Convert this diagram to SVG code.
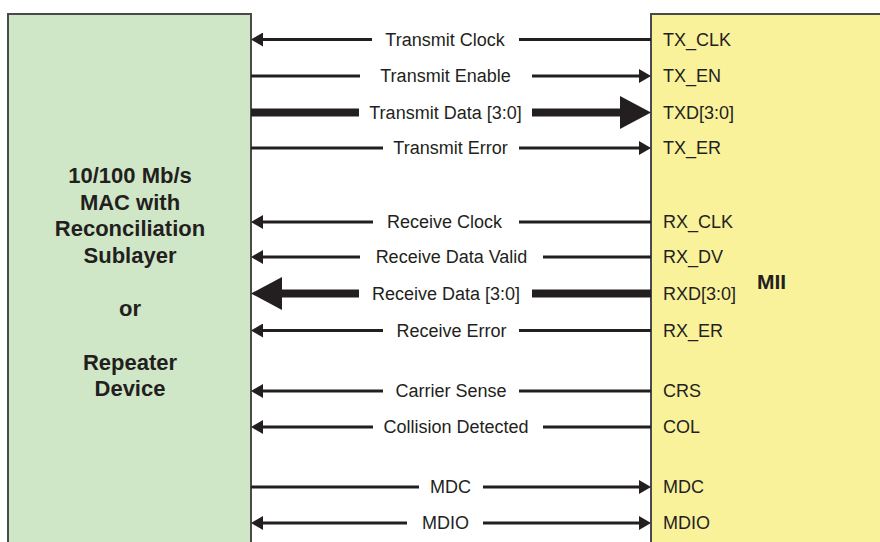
<svg xmlns="http://www.w3.org/2000/svg" width="880" height="542" viewBox="0 0 880 542">
  <style>
    .box-mac { fill: #d0e7c7; stroke: #4a4a4a; stroke-width: 2; }
    .box-mii { fill: #f9f29b; stroke: #4a4a4a; stroke-width: 2; }
    .title { font-family: "Liberation Sans", Arial, sans-serif; font-weight: bold; font-size: 22px; fill: #231f20; text-anchor: middle; }
    .mii { font-family: "Liberation Sans", Arial, sans-serif; font-weight: bold; font-size: 21px; fill: #231f20; }
    .sig { font-family: "Liberation Sans", Arial, sans-serif; font-size: 18px; fill: #231f20; text-anchor: middle; }
    .pin { font-family: "Liberation Sans", Arial, sans-serif; font-size: 18px; fill: #231f20; }
    .thin { stroke: #231f20; stroke-width: 3; fill: none; }
    .thick { stroke: #231f20; stroke-width: 8; fill: none; }
  </style>
  <defs>
    <marker id="head" markerUnits="userSpaceOnUse" markerWidth="12" markerHeight="14" refX="0" refY="7" orient="auto-start-reverse">
      <path d="M0,0 L12,7 L0,14 Z" fill="#231f20"/>
    </marker>
    <marker id="head-bus" markerUnits="userSpaceOnUse" markerWidth="31" markerHeight="33" refX="0" refY="16.5" orient="auto-start-reverse">
      <path d="M0,0 L31,16.5 L0,33 Z" fill="#231f20"/>
    </marker>
  </defs>

  <rect width="880" height="542" fill="#ffffff"/>

  <!-- MAC / repeater block -->
  <g id="mac">
    <rect class="box-mac" x="8" y="14" width="243" height="560"/>
    <text class="title" x="130" y="183">10/100 Mb/s</text>
    <text class="title" x="130" y="209.5">MAC with</text>
    <text class="title" x="130" y="236">Reconciliation</text>
    <text class="title" x="130" y="262.5">Sublayer</text>
    <text class="title" x="130" y="316">or</text>
    <text class="title" x="130" y="369.5">Repeater</text>
    <text class="title" x="130" y="396">Device</text>
  </g>

  <!-- MII block with its pin names -->
  <g id="mii">
    <rect class="box-mii" x="651" y="14" width="260" height="560"/>
    <text class="mii" x="757" y="289">MII</text>
    <text class="pin" x="663" y="45.5">TX_CLK</text>
    <text class="pin" x="663" y="82">TX_EN</text>
    <text class="pin" x="663" y="118.5">TXD[3:0]</text>
    <text class="pin" x="663" y="154">TX_ER</text>
    <text class="pin" x="663" y="228">RX_CLK</text>
    <text class="pin" x="663" y="263">RX_DV</text>
    <text class="pin" x="663" y="299.5">RXD[3:0]</text>
    <text class="pin" x="663" y="336.5">RX_ER</text>
    <text class="pin" x="663" y="397">CRS</text>
    <text class="pin" x="663" y="433">COL</text>
    <text class="pin" x="663" y="493">MDC</text>
    <text class="pin" x="663" y="529">MDIO</text>
  </g>

  <!-- signal lines between the two blocks -->
  <g id="connectors">
    <g id="tx-clk">
      <path class="thin" d="M263,39.5 H372" marker-start="url(#head)"/>
      <path class="thin" d="M519,39.5 H651"/>
      <text class="sig" x="445" y="45.5">Transmit Clock</text>
    </g>
    <g id="tx-en">
      <path class="thin" d="M251,76 H360"/>
      <path class="thin" d="M532,76 H639" marker-end="url(#head)"/>
      <text class="sig" x="445.5" y="82">Transmit Enable</text>
    </g>
    <g id="txd">
      <path class="thick" d="M251,112.5 H359"/>
      <path class="thick" d="M532,112.5 H620" marker-end="url(#head-bus)"/>
      <text class="sig" x="445.5" y="118.5">Transmit Data [3:0]</text>
    </g>
    <g id="tx-er">
      <path class="thin" d="M251,148 H383"/>
      <path class="thin" d="M519,148 H639" marker-end="url(#head)"/>
      <text class="sig" x="450.5" y="154">Transmit Error</text>
    </g>
    <g id="rx-clk">
      <path class="thin" d="M263,222 H373" marker-start="url(#head)"/>
      <path class="thin" d="M519,222 H651"/>
      <text class="sig" x="444.5" y="228">Receive Clock</text>
    </g>
    <g id="rx-dv">
      <path class="thin" d="M263,257 H360" marker-start="url(#head)"/>
      <path class="thin" d="M543,257 H651"/>
      <text class="sig" x="451.5" y="263">Receive Data Valid</text>
    </g>
    <g id="rxd">
      <path class="thick" d="M282,293.5 H359" marker-start="url(#head-bus)"/>
      <path class="thick" d="M532,293.5 H651"/>
      <text class="sig" x="446" y="299.5">Receive Data [3:0]</text>
    </g>
    <g id="rx-er">
      <path class="thin" d="M263,330.5 H383" marker-start="url(#head)"/>
      <path class="thin" d="M519,330.5 H651"/>
      <text class="sig" x="451.5" y="336.5">Receive Error</text>
    </g>
    <g id="crs">
      <path class="thin" d="M263,391 H383" marker-start="url(#head)"/>
      <path class="thin" d="M519,391 H651"/>
      <text class="sig" x="451" y="397">Carrier Sense</text>
    </g>
    <g id="col">
      <path class="thin" d="M263,427 H373" marker-start="url(#head)"/>
      <path class="thin" d="M543,427 H651"/>
      <text class="sig" x="456" y="433">Collision Detected</text>
    </g>
    <g id="mdc">
      <path class="thin" d="M251,487 H419"/>
      <path class="thin" d="M483,487 H639" marker-end="url(#head)"/>
      <text class="sig" x="450.5" y="493">MDC</text>
    </g>
    <g id="mdio">
      <path class="thin" d="M263,523 H407" marker-start="url(#head)"/>
      <path class="thin" d="M483,523 H639" marker-end="url(#head)"/>
      <text class="sig" x="445.5" y="529">MDIO</text>
    </g>
  </g>
</svg>
